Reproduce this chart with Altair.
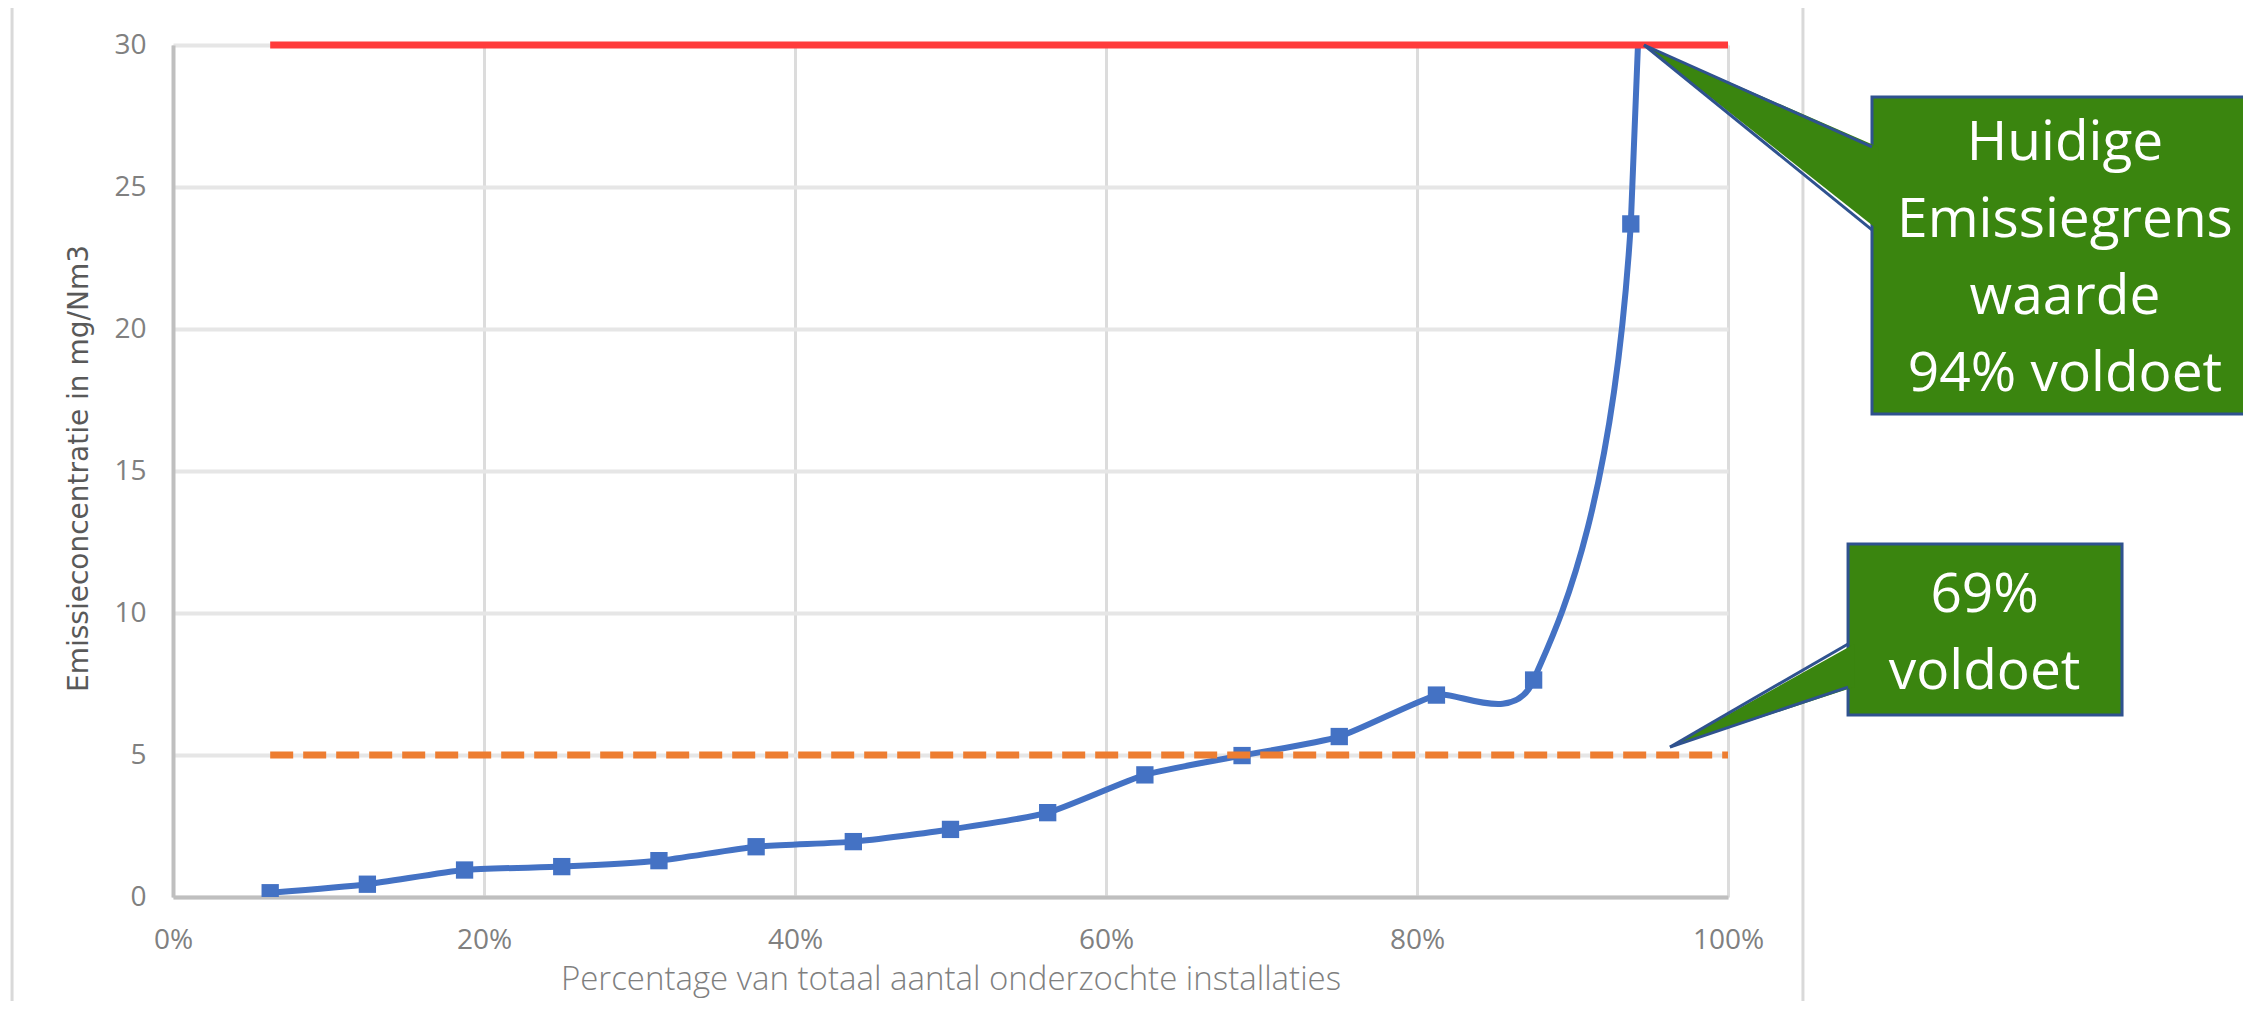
import altair as alt
import pandas as pd

# ---- data ----
share = [0.0625, 0.125, 0.1875, 0.25, 0.3125, 0.375, 0.4375, 0.5,
         0.5625, 0.625, 0.6875, 0.75, 0.8125, 0.875, 0.9375, 1.0]
conc = [0.15, 0.45, 0.95, 1.07, 1.28, 1.77, 1.95, 2.38,
        2.97, 4.3, 4.98, 5.65, 7.11, 7.64, 23.7, 115]

limit_current = 30
limit_new = 5
limit_start = 0.0625
limit_end = 1.0

x_ticks = [0, 0.2, 0.4, 0.6, 0.8, 1.0]
y_ticks = [0, 5, 10, 15, 20, 25, 30]

x_title = "Percentage van totaal aantal onderzochte installaties"
y_title = "Emissieconcentratie in mg/Nm3"
callout_texts = ["Huidige\nEmissiegrens\nwaarde\n94% voldoet", "69%\nvoldoet"]

# ---- annotation geometry (in data units) ----
box_x0 = [1.0926, 1.0772]
box_x1 = [1.3383, 1.2534]
box_y0 = [17.01, 6.41]
box_y1 = [28.17, 12.43]
tip_x = [0.946, 0.9627]
tip_y = [30.0, 5.28]
join_top = [26.41, 8.91]
join_bot = [23.49, 7.39]
text_x = [1.2167, 1.165]
text_y = [26.55, 10.62]
frame_x = [-0.1035, 1.0482]
frame_y = [-3.7, 31.34]

GREEN = "#3A850F"
EDGE = "#2F528F"
BLUE = "#4472C4"

xs = alt.Scale(domain=[0, 1], nice=False, zero=False)
ys = alt.Scale(domain=[0, 30], nice=False, zero=False)

x_axis = alt.Axis(values=x_ticks, format=".0%", grid=True, ticks=False,
                  labelFlush=False,
                  labelFont="Open Sans", labelFontSize=28, labelColor="#808080",
                  labelPadding=29, domainColor="#BFBFBF", domainWidth=4,
                  gridColor="#DCDCDC", gridWidth=3,
                  title=x_title, titleFont="Open Sans", titleFontSize=33,
                  titleFontWeight=300, titleColor="#7F7F7F",
                  titleBaseline="alphabetic", titleY=92)
y_axis = alt.Axis(values=y_ticks, grid=True, ticks=False,
                  labelFlush=False,
                  labelFont="Open Sans", labelFontSize=28, labelColor="#808080",
                  labelPadding=27, domainColor="#BFBFBF", domainWidth=4,
                  gridColor="#E6E6E6", gridWidth=4,
                  title=y_title, titleFont="DejaVu Sans", titleFontSize=28,
                  titleFontWeight="normal", titleColor="#595959",
                  titleAngle=270, titleAlign="center", titleBaseline="middle",
                  titleX=-94, titleY=423)


def X(field):
    return alt.X(field, scale=xs, axis=x_axis)


def Y(field):
    return alt.Y(field, scale=ys, axis=y_axis)


series = pd.DataFrame({"share": share, "conc": conc})

line = alt.Chart(series).mark_line(
    interpolate="cardinal", tension=0.4, color=BLUE, strokeWidth=6, clip=True
).encode(x=X("share:Q"), y=Y("conc:Q"))

points = alt.Chart(series).mark_point(
    shape="square", filled=True, size=300, color=BLUE, opacity=1, clip=True
).encode(x=X("share:Q"), y=Y("conc:Q"))

limits = pd.DataFrame({"x0": [limit_start], "x1": [limit_end],
                       "cur": [limit_current], "new": [limit_new]})

red = alt.Chart(limits).mark_rule(color="#FF3B3B", strokeWidth=7).encode(
    x=X("x0:Q"), x2="x1:Q", y=Y("cur:Q"),
)
orange = alt.Chart(limits).mark_rule(
    color="#ED7D31", strokeWidth=7, strokeDash=[23, 10]
).encode(x=X("x0:Q"), x2="x1:Q", y=Y("new:Q"))

frames = pd.DataFrame({"fx": frame_x, "fy0": [frame_y[0]] * 2, "fy1": [frame_y[1]] * 2})
frame = alt.Chart(frames).mark_rule(color="#D9D9D9", strokeWidth=3).encode(
    x=X("fx:Q"), y=Y("fy0:Q"), y2="fy1:Q",
)

boxes = pd.DataFrame({"bx0": box_x0, "bx1": box_x1, "by0": box_y0, "by1": box_y1})
box = alt.Chart(boxes).mark_rect(fill=GREEN, stroke=EDGE, strokeWidth=3).encode(
    x=X("bx0:Q"), x2="bx1:Q", y=Y("by0:Q"), y2="by1:Q",
)

tail_layers = []
edge_rows = []
for i in range(2):
    tri = pd.DataFrame({
        "tx": [tip_x[i], box_x0[i] + 0.004],
        "ty": [tip_y[i], join_top[i]],
        "ty2": [tip_y[i], join_bot[i]],
    })
    tail_layers.append(
        alt.Chart(tri).mark_area(color=GREEN, opacity=1, orient="vertical").encode(
            x=X("tx:Q"), y=Y("ty:Q"), y2="ty2:Q",
        )
    )
    edge_rows.append({"ex0": tip_x[i], "ey0": tip_y[i], "ex1": box_x0[i], "ey1": join_top[i]})
    edge_rows.append({"ex0": tip_x[i], "ey0": tip_y[i], "ex1": box_x0[i], "ey1": join_bot[i]})

edges = alt.Chart(pd.DataFrame(edge_rows)).mark_rule(color=EDGE, strokeWidth=3).encode(
    x=X("ex0:Q"), x2="ex1:Q", y=Y("ey0:Q"), y2="ey1:Q",
)

texts = pd.DataFrame({"tx": text_x, "ty": text_y, "label": callout_texts})
label = alt.Chart(texts).mark_text(
    font="Open Sans", fontSize=55, color="white", align="center",
    baseline="middle", lineBreak="\n", lineHeight=77
).encode(x=X("tx:Q"), y=Y("ty:Q"), text="label:N")

chart = alt.layer(
    line, points, orange, red, frame, box, *tail_layers, edges, label
).properties(
    width=1555, height=852,
    autosize=alt.AutoSizeParams(type="none"),
    padding={"left": 165, "top": 37, "right": 515, "bottom": 104},
).configure_view(strokeWidth=0).configure(background="white")

chart.save("out.html", embed_options={"renderer": "svg", "actions": False})
